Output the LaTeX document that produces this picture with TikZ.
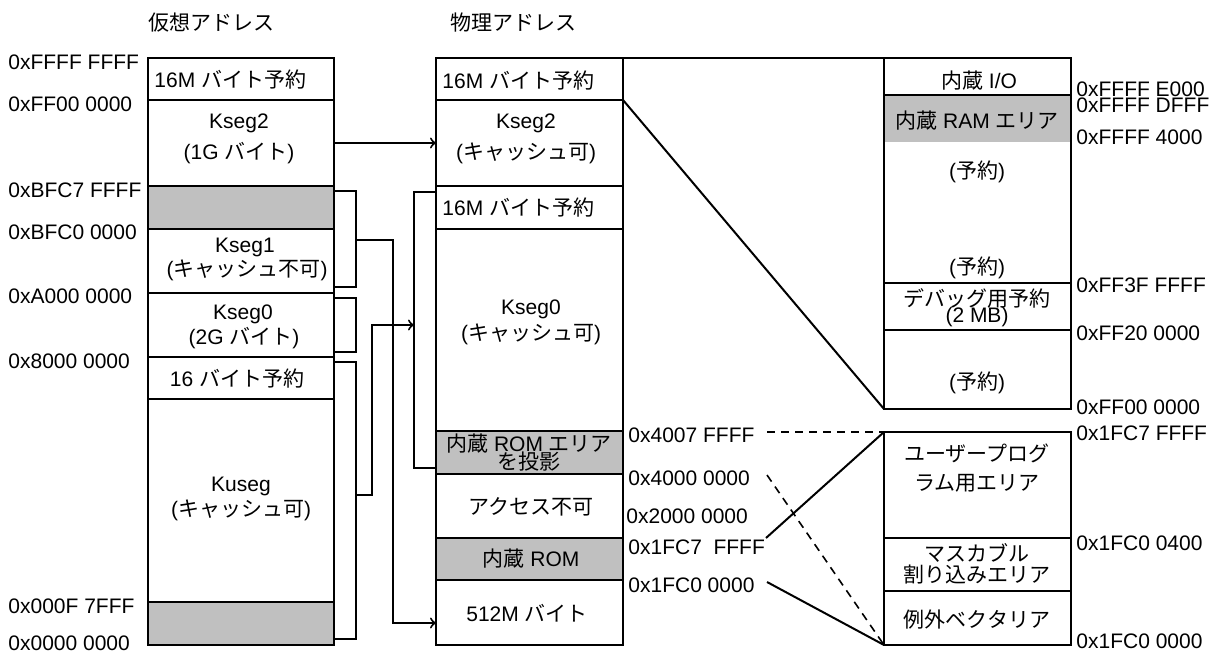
\documentclass[tikz,border=0pt]{standalone}
\usepackage{fontspec}
\setmainfont{Liberation Sans}
\newfontfamily\jp{Noto Sans CJK JP}
\definecolor{romgray}{RGB}{192,192,192}
\tikzset{
  seg/.style={draw=black, line width=1pt},
  txt/.style={inner sep=0pt, font=\fontsize{10.5}{11}\selectfont},
  addr/.style={txt, anchor=west},
  link/.style={line width=1pt},
  guide/.style={line width=0.8pt, dash pattern=on 4pt off 3pt},
}

\begin{document}
\begin{tikzpicture}[x=0.5pt, y=-0.5pt]
  \useasboundingbox (0,0) rectangle (1220,652);
  \node[txt] (vtitle) at (211,23) {\jp 仮想アドレス};
  \node[txt] (ptitle) at (513,23) {\jp 物理アドレス};

  % virtual address map
  \fill[romgray] (148,186) rectangle (334,229);
  \fill[romgray] (148,602) rectangle (334,645);
  \draw[seg] (148,58) rectangle (334,645);
  \foreach \y in {100,186,229,293,357,399,602}
    \draw[seg] (148,\y) -- (334,\y);
  \node[txt, anchor=west] (vres) at (154,80) {16M {\jp バイト予約}};
  \node[txt] (vk2) at (239,123) {Kseg2};
  \node[txt] (vk2s) at (239,153) {(1G {\jp バイト})};
  \node[txt] (vk1) at (245,247) {Kseg1};
  \node[txt] (vk1s) at (247,270) {({\jp キャッシュ不可})};
  \node[txt] (vk0) at (243,314) {Kseg0};
  \node[txt] (vk0s) at (244,338) {(2G {\jp バイト})};
  \node[txt] (vres16) at (237,379) {16 {\jp バイト予約}};
  \node[txt] (vku) at (241,486) {Kuseg};
  \node[txt] (vkus) at (241,510) {({\jp キャッシュ可})};

  \node[addr] (va1) at (8,62) {0xFFFF FFFF};
  \node[addr] (va2) at (8,104) {0xFF00 0000};
  \node[addr] (va3) at (8,190) {0xBFC7 FFFF};
  \node[addr] (va4) at (8,232) {0xBFC0 0000};
  \node[addr] (va5) at (8,296) {0xA000 0000};
  \node[addr] (va6) at (8,361) {0x8000 0000};
  \node[addr] (va7) at (8,606) {0x000F 7FFF};
  \node[addr] (va8) at (8,643) {0x0000 0000};

  % physical address map
  \fill[romgray] (436,431) rectangle (623,474);
  \fill[romgray] (436,538) rectangle (623,580);
  \draw[seg] (436,58) rectangle (623,645);
  \foreach \y in {100,186,229,431,474,538,580}
    \draw[seg] (436,\y) -- (623,\y);
  \node[txt, anchor=west] (pres) at (442,81) {16M {\jp バイト予約}};
  \node[txt] (pk2) at (526,123) {Kseg2};
  \node[txt] (pk2s) at (526,153) {({\jp キャッシュ可})};
  \node[txt, anchor=west] (pres2) at (442,208) {16M {\jp バイト予約}};
  \node[txt] (pk0) at (531,309) {Kseg0};
  \node[txt] (pk0s) at (531,334) {({\jp キャッシュ可})};
  \node[txt] (prom1) at (529,444) {{\jp 内蔵} ROM {\jp エリア}};
  \node[txt] (prom2) at (529,462) {\jp を投影};
  \node[txt] (pnone) at (531,507) {\jp アクセス不可};
  \node[txt] (prom) at (531,559) {{\jp 内蔵} ROM};
  \node[txt] (p512) at (527,613) {512M {\jp バイト}};

  \node[addr] (pa1) at (628,435) {0x4007 FFFF};
  \node[addr] (pa2) at (628,478) {0x4000 0000};
  \node[addr] (pa3) at (626,516) {0x2000 0000};
  \node[addr] (pa4) at (628,547) {0x1FC7 \ FFFF};
  \node[addr] (pa5) at (628,585) {0x1FC0 0000};

  % internal I/O area
  \fill[romgray] (884,95) rectangle (1071,142);
  \draw[seg] (884,58) rectangle (1071,409);
  \foreach \y in {95,283,330}
    \draw[seg] (884,\y) -- (1071,\y);
  \node[txt] (io) at (979,81) {{\jp 内蔵} I/O};
  \node[txt] (ram) at (977,121) {{\jp 内蔵} RAM {\jp エリア}};
  \node[txt] (rsv1) at (977,172) {({\jp 予約})};
  \node[txt] (rsv2) at (977,268) {({\jp 予約})};
  \node[txt] (dbg) at (977,298) {\jp デバッグ用予約};
  \node[txt] (dbgs) at (977,317) {(2 MB)};
  \node[txt] (rsv3) at (977,383) {({\jp 予約})};

  \node[addr] (ia1) at (1076,89) {0xFFFF E000};
  \node[addr] (ia2) at (1076,105) {0xFFFF DFFF};
  \node[addr] (ia3) at (1076,137) {0xFFFF 4000};
  \node[addr] (ia4) at (1076,285) {0xFF3F FFFF};
  \node[addr] (ia5) at (1076,333) {0xFF20 0000};
  \node[addr] (ia6) at (1076,407) {0xFF00 0000};

  % internal ROM area
  \draw[seg] (884,432) rectangle (1071,645);
  \foreach \y in {538,591}
    \draw[seg] (884,\y) -- (1071,\y);
  \node[txt] (user1) at (977,453) {\jp ユーザープログ};
  \node[txt] (user2) at (977,483) {\jp ラム用エリア};
  \node[txt] (nmi1) at (977,553) {\jp マスカブル};
  \node[txt] (nmi2) at (977,575) {\jp 割り込みエリア};
  \node[txt] (vec) at (977,620) {\jp 例外ベクタリア};

  \node[addr] (ra1) at (1076,433) {0x1FC7 FFFF};
  \node[addr] (ra2) at (1076,543) {0x1FC0 0400};
  \node[addr] (ra3) at (1076,641) {0x1FC0 0000};

  % virtual -> physical
  \coordinate (vk2out) at (334,143);
  \coordinate (pk2in) at (436,143);
  \draw[link,->] (vk2out) -- (pk2in);
  \coordinate (vk1top) at (334,191);
  \coordinate (vk1bot) at (334,287);
  \coordinate (vk1mid) at (356,240);
  \coordinate (p512in) at (436,623);
  \draw[link] (vk1top) -- (356,191) -- (356,287) -- (vk1bot);
  \draw[link,->] (vk1mid) -| (393,623) -- (p512in);
  \coordinate (vk0top) at (334,298);
  \coordinate (vk0bot) at (334,352);
  \draw[link] (vk0top) -- (356,298) -- (356,352) -- (vk0bot);
  \coordinate (vkutop) at (334,362);
  \coordinate (vkubot) at (334,639);
  \coordinate (vkumid) at (356,495);
  \coordinate (pk0in) at (414,325);
  \draw[link] (vkutop) -- (356,362) -- (356,639) -- (vkubot);
  \draw[link,->] (vkumid) -| (372,325) -- (pk0in);
  \coordinate (pk0top) at (436,192);
  \coordinate (pk0bot) at (436,468);
  \draw[link] (pk0top) -- (414,192) -- (414,468) -- (pk0bot);

  % zoom lines
  \coordinate (ptop) at (623,58);
  \coordinate (pk2top) at (623,100);
  \coordinate (iotop) at (884,58);
  \coordinate (iobot) at (884,409);
  \draw[link] (ptop) -- (iotop);
  \draw[link] (pk2top) -- (iobot);
  \coordinate (romtop) at (884,432);
  \coordinate (rombot) at (884,645);
  \draw[guide] (767,432) -- (romtop);
  \draw[guide] (767,475) -- (rombot);
  \draw[link] (766,538) -- (romtop);
  \draw[link] (767,582) -- (rombot);
\end{tikzpicture}
\end{document}
